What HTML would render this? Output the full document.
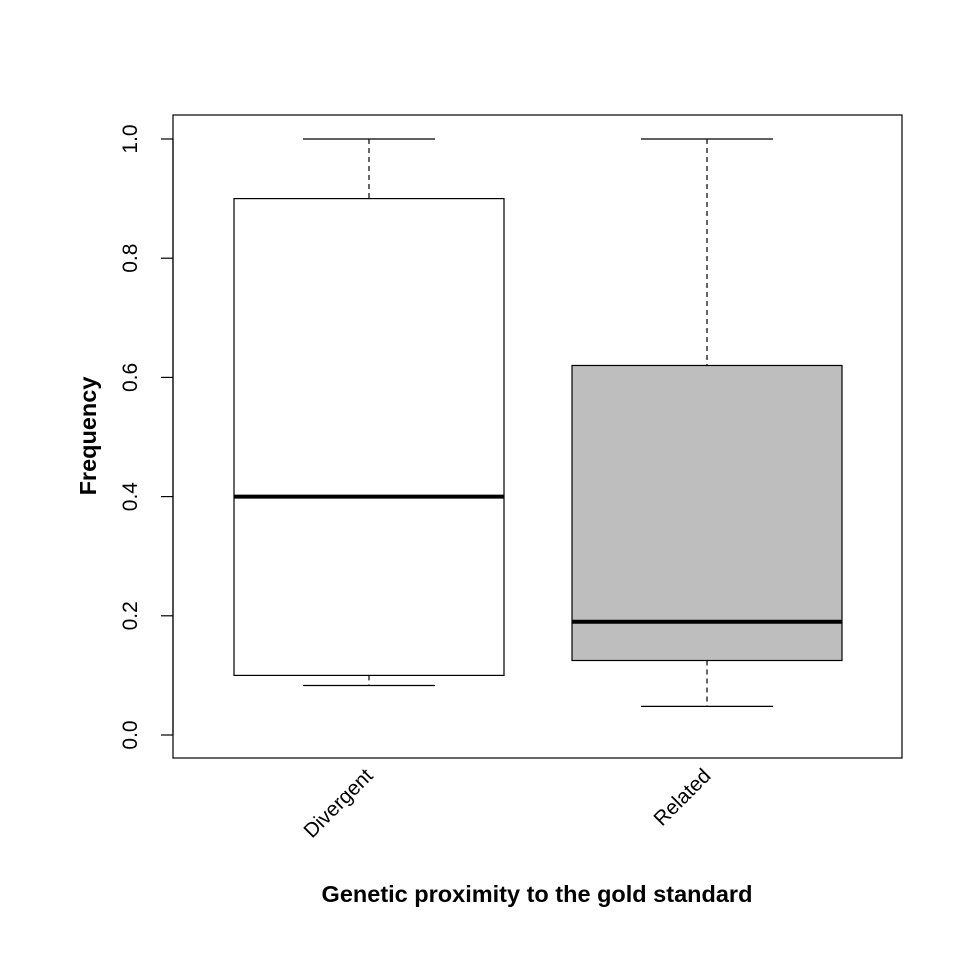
<!DOCTYPE html>
<html><head><meta charset="utf-8"><style>
body{margin:0;background:#fff}
svg{display:block;font-family:"Liberation Sans",Arial,sans-serif}
</style></head><body>
<svg id="chart" width="960" height="960" viewBox="0 0 960 960">
<rect x="0" y="0" width="960" height="960" fill="#fff"/>
<rect x="173" y="115" width="729" height="643" fill="none" stroke="#000" stroke-width="1.2"/>
<g id="yaxis"></g>
<g id="boxes"></g>
<g id="xaxis"></g>
<text x="96" y="436" transform="rotate(-90 96 436)" text-anchor="middle" font-size="23.5" font-weight="bold">Frequency</text>
<text x="537" y="902" text-anchor="middle" font-size="23.5" font-weight="bold">Genetic proximity to the gold standard</text>
</svg>
<script>
const categories = ["Divergent", "Related"];
const lowerWhisker = [0.083, 0.048];
const q1 = [0.1, 0.125];
const median = [0.4, 0.19];
const q3 = [0.9, 0.62];
const upperWhisker = [1.0, 1.0];
const fills = ["#ffffff", "#bebebe"];
const yTicks = [0, 0.2, 0.4, 0.6, 0.8, 1.0];
const yTickLabels = ["0.0", "0.2", "0.4", "0.6", "0.8", "1.0"];

const NS = "http://www.w3.org/2000/svg";
function y(v){ return 735 - v * 596; }
function x(i){ return 369 + i * 338; }
function mk(tag, attrs, parent){
  const e = document.createElementNS(NS, tag);
  for (const k in attrs) e.setAttribute(k, attrs[k]);
  parent.appendChild(e);
  return e;
}
const ya = document.getElementById("yaxis");
const line0 = mk("line", {x1:173, x2:173, y1:y(0), y2:y(1), stroke:"#000", "stroke-width":1.2}, ya);


yTicks.forEach((t, i) => {
  const tk = mk("line", {x1:161, x2:173, y1:y(t), y2:y(t), stroke:"#000", "stroke-width":1.2}, ya);
  
  
  const lb = mk("text", {x:137, y:y(t), transform:`rotate(-90 137 ${y(t)})`, "text-anchor":"middle", "font-size":21}, ya);
  lb.textContent = yTickLabels[i];
  
  
});
const bx = document.getElementById("boxes");
const xa = document.getElementById("xaxis");
categories.forEach((c, i) => {
  const cx = x(i);
  const g = mk("g", {}, bx);
  
  
  mk("line", {x1:cx, x2:cx, y1:y(upperWhisker[i]), y2:y(q3[i]), stroke:"#000", "stroke-width":1.2, "stroke-dasharray":"5,4"}, g);
  mk("line", {x1:cx, x2:cx, y1:y(q1[i]), y2:y(lowerWhisker[i]), stroke:"#000", "stroke-width":1.2, "stroke-dasharray":"5,4"}, g);
  mk("line", {x1:cx-66, x2:cx+66, y1:y(upperWhisker[i]), y2:y(upperWhisker[i]), stroke:"#000", "stroke-width":1.2}, g);
  mk("line", {x1:cx-66, x2:cx+66, y1:y(lowerWhisker[i]), y2:y(lowerWhisker[i]), stroke:"#000", "stroke-width":1.2}, g);
  mk("rect", {x:cx-135, y:y(q3[i]), width:270, height:y(q1[i])-y(q3[i]), fill:fills[i], stroke:"#000", "stroke-width":1.2}, g);
  mk("line", {x1:cx-135, x2:cx+135, y1:y(median[i]), y2:y(median[i]), stroke:"#000", "stroke-width":4}, g);
  const lb = mk("text", {x:cx+5, y:777, transform:`rotate(-45 ${cx+5} 777)`, "text-anchor":"end", "font-size":20.5}, xa);
  lb.textContent = c;
  
  
});
</script>
</body></html>
